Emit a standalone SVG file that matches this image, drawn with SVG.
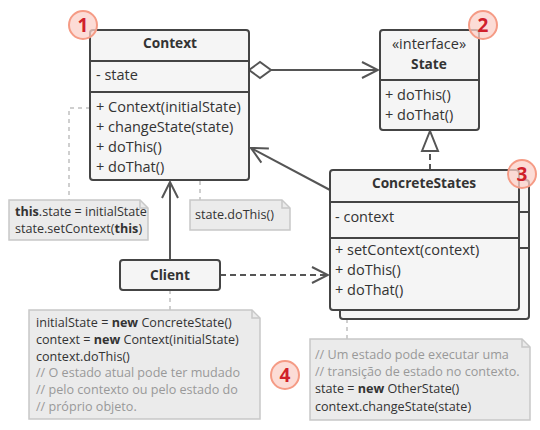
<svg xmlns="http://www.w3.org/2000/svg" width="540" height="430" viewBox="0 0 540 430">
<defs>
<style>
.box{fill:#f5f5f5;stroke:#444;stroke-width:2}
.div{stroke:#444;stroke-width:2}
.t{font-family:"Open Sans","Liberation Sans",sans-serif;font-size:14.5px;fill:#333}
.h{font-family:"Open Sans","Liberation Sans",sans-serif;font-size:13.7px;font-weight:bold;fill:#333}
.b{font-weight:bold}
.n{font-family:"Open Sans","Liberation Sans",sans-serif;font-size:12.6px;fill:#333}
.c{fill:#999}
.note{fill:#ebebeb;stroke:#c8c8c8;stroke-width:1.5}
.lnk{stroke:#c0c0c0;stroke-width:1.5;stroke-dasharray:4 4;fill:none}
.con{stroke:#555;stroke-width:2;fill:none}
.badge{fill:#fbd0c8;fill-opacity:0.75;stroke:#f59b85;stroke-width:2}
.bt{font-family:"Open Sans","Liberation Sans",sans-serif;font-size:19px;font-weight:bold;fill:#d0202a;text-anchor:middle}
</style>
<marker id="open" viewBox="0 0 20 20" refX="18" refY="10" markerWidth="20" markerHeight="20" markerUnits="userSpaceOnUse" orient="auto">
<path d="M2,2 L18,10 L2,18" fill="none" stroke="#555" stroke-width="2"/>
</marker>
<marker id="tri" viewBox="0 0 24 20" refX="22" refY="10" markerWidth="24" markerHeight="20" markerUnits="userSpaceOnUse" orient="auto">
<path d="M2,2 L22,10 L2,18 Z" fill="#fff" stroke="#555" stroke-width="2"/>
</marker>
</defs>
<rect width="540" height="430" fill="#fff"/>

<g id="connectors">
<path class="con" d="M271,70 L378,70" marker-end="url(#open)"/>
<path d="M249,70 L260,62 L271,70 L260,78 Z" fill="#fff" stroke="#555" stroke-width="2"/>
<path class="con" d="M430,170 L430,131" stroke-dasharray="6 4" marker-end="url(#tri)"/>
<path class="con" d="M330,190 L251,148" marker-end="url(#open)"/>
<path class="con" d="M170,260 L170,182" marker-end="url(#open)"/>
<path class="con" d="M220,275 L328,275" stroke-dasharray="6 4" marker-end="url(#open)"/>
<path class="lnk" d="M90,108 L69,108 L69,200"/>
<circle cx="172" cy="149" r="3" fill="#fff" stroke="#bbb" stroke-width="1.5"/>
<path class="lnk" d="M176,149 L200,149 L200,200"/>
<path class="lnk" d="M170,290 L170,310"/>
<path class="lnk" d="M347,319 L347,339"/>
</g>

<g id="context">
<rect class="box" x="90" y="30" width="159" height="150" rx="3"/>
<line class="div" x1="90" y1="61" x2="249" y2="61"/>
<line class="div" x1="90" y1="92" x2="249" y2="92"/>
<text class="h" x="170" y="48" text-anchor="middle">Context</text>
<text class="t" x="96" y="80">- state</text>
<text class="t" x="96" y="112">+ Context(initialState)</text>
<text class="t" x="96" y="132">+ changeState(state)</text>
<text class="t" x="96" y="152">+ doThis()</text>
<text class="t" x="96" y="172">+ doThat()</text>
</g>

<g id="state">
<rect class="box" x="380" y="30" width="99" height="100" rx="3"/>
<line class="div" x1="380" y1="80" x2="479" y2="80"/>
<text class="t" x="429" y="49" text-anchor="middle">«interface»</text>
<text class="h" x="429" y="69" text-anchor="middle">State</text>
<text class="t" x="385" y="100">+ doThis()</text>
<text class="t" x="385" y="120">+ doThat()</text>
</g>

<g id="concretestates">
<rect class="box" x="340" y="180" width="189" height="139" rx="3"/>
<line class="div" x1="519" y1="212" x2="529" y2="212"/>
<line class="div" x1="519" y1="248" x2="529" y2="248"/>
<rect class="box" x="330" y="170" width="189" height="140" rx="3"/>
<line class="div" x1="330" y1="202" x2="519" y2="202"/>
<line class="div" x1="330" y1="238" x2="519" y2="238"/>
<text class="h" x="424" y="188" text-anchor="middle">ConcreteStates</text>
<text class="t" x="335" y="222">- context</text>
<text class="t" x="335" y="255">+ setContext(context)</text>
<text class="t" x="335" y="275">+ doThis()</text>
<text class="t" x="335" y="295">+ doThat()</text>
</g>

<g id="client">
<rect class="box" x="120" y="260" width="100" height="30" rx="3"/>
<text class="h" x="170" y="280" text-anchor="middle">Client</text>
</g>

<g id="note1">
<path class="note" d="M9,200 L140,200 L148,208 L148,240 L9,240 Z"/>
<path d="M140,200 L140,208 L148,208" fill="none" stroke="#c8c8c8" stroke-width="1.5"/>
<text class="n" x="15" y="216"><tspan class="b">this</tspan>.state = initialState</text>
<text class="n" x="15" y="233">state.setContext(<tspan class="b">this</tspan>)</text>
</g>

<g id="note2">
<path class="note" d="M190,200 L282,200 L290,208 L290,230 L190,230 Z"/>
<path d="M282,200 L282,208 L290,208" fill="none" stroke="#c8c8c8" stroke-width="1.5"/>
<text class="n" x="195" y="219">state.doThis()</text>
</g>

<g id="note3">
<path class="note" d="M29,310 L252,310 L260,318 L260,419 L29,419 Z"/>
<path d="M252,310 L252,318 L260,318" fill="none" stroke="#c8c8c8" stroke-width="1.5"/>
<text class="n" x="36" y="327">initialState = <tspan class="b">new</tspan> ConcreteState()</text>
<text class="n" x="36" y="344">context = <tspan class="b">new</tspan> Context(initialState)</text>
<text class="n" x="36" y="361">context.doThis()</text>
<text class="n c" x="36" y="377">// O estado atual pode ter mudado</text>
<text class="n c" x="36" y="394">// pelo contexto ou pelo estado do</text>
<text class="n c" x="36" y="411">// próprio objeto.</text>
</g>

<g id="note4">
<path class="note" d="M310,339 L522,339 L530,347 L530,420 L310,420 Z"/>
<path d="M522,339 L522,347 L530,347" fill="none" stroke="#c8c8c8" stroke-width="1.5"/>
<text class="n c" x="315" y="359">// Um estado pode executar uma</text>
<text class="n c" x="315" y="376">// transição de estado no contexto.</text>
<text class="n" x="315" y="393">state = <tspan class="b">new</tspan> OtherState()</text>
<text class="n" x="315" y="411">context.changeState(state)</text>
</g>

<g id="badges">
<circle class="badge" cx="83" cy="25" r="14"/>
<text class="bt" x="83" y="32">1</text>
<circle class="badge" cx="483" cy="25" r="14"/>
<text class="bt" x="483" y="32">2</text>
<circle class="badge" cx="522" cy="174" r="14"/>
<text class="bt" x="522" y="181">3</text>
<circle class="badge" cx="285" cy="375" r="14"/>
<text class="bt" x="285" y="382">4</text>
</g>
</svg>
